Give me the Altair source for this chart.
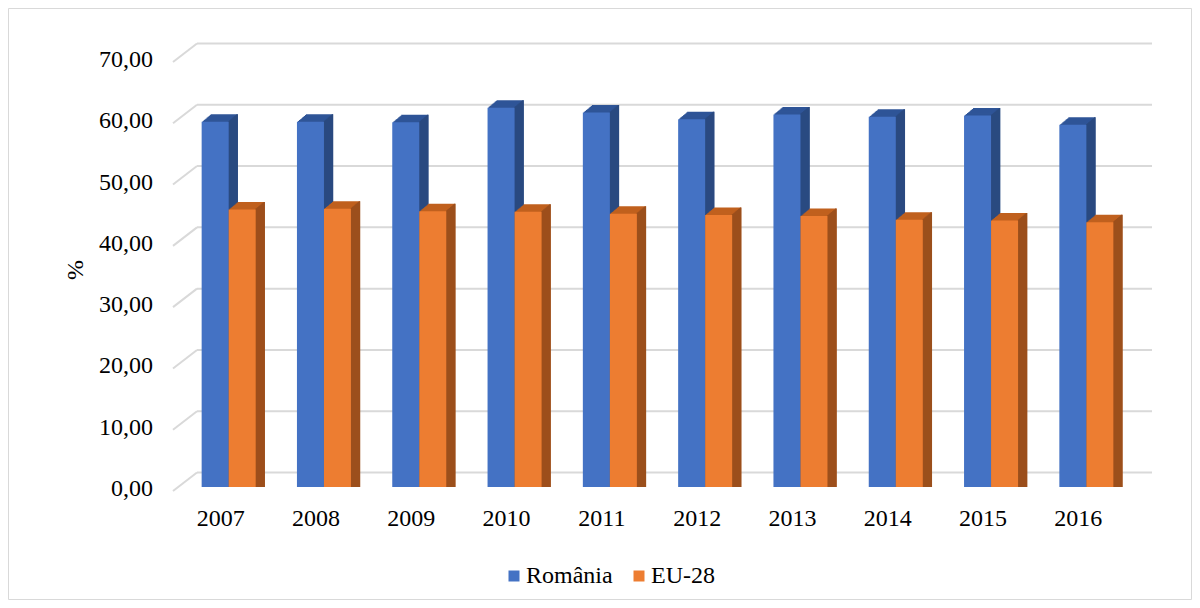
import altair as alt
import pandas as pd

# ---- data ----
years = ["2007", "2008", "2009", "2010", "2011", "2012", "2013", "2014", "2015", "2016"]
romania = [59.6, 59.6, 59.5, 61.9, 61.1, 60.0, 60.8, 60.4, 60.6, 59.1]
eu28 = [45.3, 45.4, 45.0, 44.9, 44.6, 44.4, 44.2, 43.6, 43.5, 43.2]
series_names = ["România", "EU-28"]
y_ticks = [0, 10, 20, 30, 40, 50, 60, 70]

# ---- styles ----
front_colors = ["#4472C4", "#ED7D31"]
top_colors = ["#2F5597", "#C0601E"]
side_colors = ["#2A4A80", "#9C4F1C"]
grid_color = "#D9D9D9"
FONT = "Times New Roman, Liberation Serif, serif"
FS = 24

PAD_L, PAD_T = 173, 50
W, H = 953, 429
BAR_W = 27
DEPTH_X, DEPTH_Y = 9.0, 7.5
STEPS = 9
SX, SY = DEPTH_X / STEPS, DEPTH_Y / STEPS
BACK_DX, BACK_DY = 16, -14.5   # back wall offset (grid start x, y shift)

df = pd.DataFrame({
    "year": years + years,
    "series": [series_names[0]] * len(years) + [series_names[1]] * len(years),
    "value": romania + eu28,
})
grid_df = pd.DataFrame({"tick": y_ticks})
year_df = pd.DataFrame({"year": years})
one_df = pd.DataFrame({"a": [0]})

yscale = alt.Scale(domain=[0, 70], nice=False, zero=True)
xscale = alt.Scale(paddingInner=0, paddingOuter=0)

layers = []

# outer frame
layers.append(
    alt.Chart(one_df).mark_rect(fill="white", fillOpacity=0, stroke=grid_color, strokeWidth=1).encode(
        x=alt.value(0.5 - PAD_L), x2=alt.value(1183.5 - PAD_L),
        y=alt.value(0.5 - PAD_T), y2=alt.value(591.5 - PAD_T)
    )
)

# back wall gridlines
layers.append(
    alt.Chart(grid_df).mark_rule(color=grid_color, strokeWidth=2, yOffset=BACK_DY).encode(
        y=alt.Y("tick:Q", scale=yscale, axis=None),
        x=alt.value(BACK_DX), x2=alt.value(1152 - 8 - PAD_L),
    )
)
# left wall diagonals
layers.append(
    alt.Chart(grid_df).mark_rule(color=grid_color, strokeWidth=2, yOffset=BACK_DY, y2Offset=4).encode(
        y=alt.Y("tick:Q", scale=yscale, axis=None),
        y2=alt.Y2("tick:Q"),
        x=alt.value(BACK_DX), x2=alt.value(-8),
    )
)
# y tick labels
layers.append(
    alt.Chart(grid_df).transform_calculate(
        label="replace(format(datum.tick, '.2f'), '.', ',')"
    ).mark_text(font=FONT, fontSize=FS, color="#000000", align="right",
                baseline="alphabetic", dy=9).encode(
        y=alt.Y("tick:Q", scale=yscale, axis=None),
        x=alt.value(-28),
        text="label:N",
    )
)
# y title
layers.append(
    alt.Chart(one_df).mark_text(text="%", font=FONT, fontSize=FS, color="#000000", angle=270,
                                align="center", baseline="middle").encode(
        x=alt.value(-105), y=alt.value(212)
    )
)
# x category labels
layers.append(
    alt.Chart(year_df).mark_text(font=FONT, fontSize=FS, color="#000000", align="center",
                                 baseline="alphabetic", dx=-8).encode(
        x=alt.X("year:N", scale=xscale, axis=None),
        y=alt.value(H + 39),
        text="year:N",
    )
)

for i, name in enumerate(series_names):
    c = -BAR_W / 2 if i == 0 else BAR_W / 2
    base = alt.Chart(df).transform_filter(alt.datum.series == name)
    # top faces (extruded silhouette)
    for k in range(STEPS, 0, -1):
        layers.append(
            base.mark_bar(width=BAR_W, color=top_colors[i], xOffset=c + k * SX,
                          yOffset=-k * SY, y2Offset=-k * SY).encode(
                x=alt.X("year:N", scale=xscale, axis=None),
                y=alt.Y("value:Q", scale=yscale, axis=None, stack=None),
            )
        )
    # side faces
    for k in range(STEPS, 0, -1):
        layers.append(
            base.mark_bar(width=SX + 0.6, color=side_colors[i],
                          xOffset=c + BAR_W / 2 + (k - 0.5) * SX,
                          yOffset=-k * SY, y2Offset=-k * SY).encode(
                x=alt.X("year:N", scale=xscale, axis=None),
                y=alt.Y("value:Q", scale=yscale, axis=None, stack=None),
            )
        )
    # front faces
    layers.append(
        base.mark_bar(width=BAR_W, xOffset=c).encode(
            x=alt.X("year:N", scale=xscale, axis=None),
            y=alt.Y("value:Q", scale=yscale, axis=None, stack=None),
            color=alt.Color("series:N", scale=alt.Scale(domain=series_names, range=front_colors),
                            legend=alt.Legend(orient="none", legendX=321, legendY=506,
                                              direction="horizontal", symbolType="square",
                                              symbolSize=121, symbolStrokeWidth=0,
                                              labelFont=FONT, labelFontSize=FS,
                                              labelColor="#000000", labelOffset=0,
                                              columnPadding=14, title=None, padding=0)),
        )
    )

chart = alt.layer(*layers).properties(
    width=W, height=H,
    padding={"left": PAD_L, "top": PAD_T, "right": 1184 - PAD_L - W, "bottom": 592 - PAD_T - H},
    autosize=alt.AutoSizeParams(type="none"),
    background="white",
).configure_view(strokeWidth=0)

chart.save("out.html", embed_options={"renderer": "svg", "actions": False})
